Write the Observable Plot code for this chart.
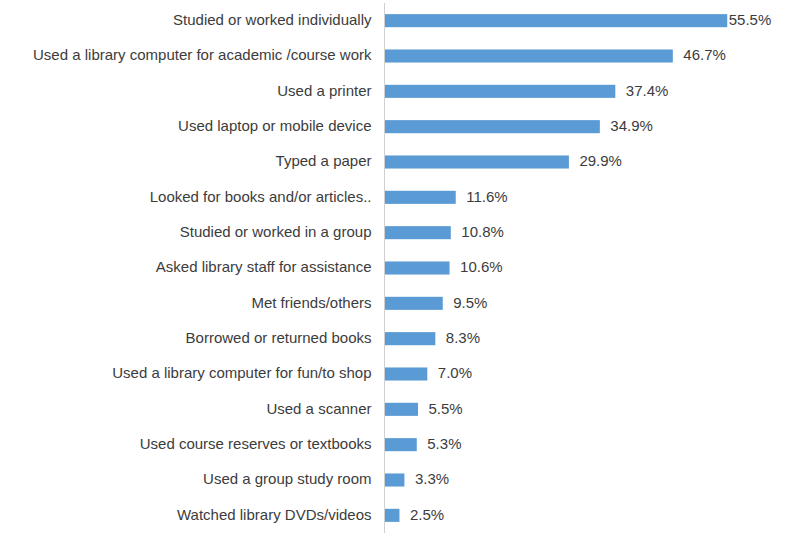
<!DOCTYPE html>
<html>
<head>
<meta charset="utf-8">
<script src="https://cdn.jsdelivr.net/npm/d3@7"></script>
<script src="https://cdn.jsdelivr.net/npm/@observablehq/plot@0.6"></script>
<style>
  body { margin: 0; background: #fff; }
  #chart { width: 800px; height: 539px; }
</style>
</head>
<body>
<div id="chart"></div>
<script>
const categories = [
  "Studied or worked individually",
  "Used a library computer for academic /course work",
  "Used a printer",
  "Used laptop or mobile device",
  "Typed a paper",
  "Looked for books and/or articles..",
  "Studied or worked in a group",
  "Asked library staff for assistance",
  "Met friends/others",
  "Borrowed or returned books",
  "Used a library computer for fun/to shop",
  "Used a scanner",
  "Used course reserves or textbooks",
  "Used a group study room",
  "Watched library DVDs/videos"
];
const values = [55.5, 46.7, 37.4, 34.9, 29.9, 11.6, 10.8, 10.6, 9.5, 8.3, 7.0, 5.5, 5.3, 3.3, 2.5];

const data = categories.map((c, i) => ({category: c, value: values[i], first: i === 0}));

const chart = Plot.plot({
  width: 800,
  height: 539,
  marginLeft: 384,
  marginRight: 14,
  marginTop: 3,
  marginBottom: 6,
  style: {fontFamily: "'Liberation Sans', Arial, sans-serif", fontSize: "15px", color: "#3c3c3c"},
  x: {domain: [0, 65], axis: null},
  y: {domain: categories, paddingInner: 0.63, paddingOuter: 0.315, round: false, label: null},
  marks: [
    Plot.barX(data, {x: "value", y: "category", fill: "#5b9bd5"}),
    Plot.ruleX([0], {stroke: "#d0d0d0", strokeWidth: 1}),
    Plot.axisY({tickSize: 0, tickPadding: 13, fontSize: 15, fill: "#3c3c3c", label: null, dy: -1}),
    Plot.text(data.filter(d => d.first), {x: "value", y: "category", text: d => d.value.toFixed(1) + "%", textAnchor: "start", dx: 1, dy: -1, fontSize: 15, fill: "#3c3c3c"}),
    Plot.text(data.filter(d => !d.first), {x: "value", y: "category", text: d => d.value.toFixed(1) + "%", textAnchor: "start", dx: 10, dy: -1, fontSize: 15, fill: "#3c3c3c"})
  ]
});
document.getElementById("chart").appendChild(chart);
</script>
</body>
</html>
